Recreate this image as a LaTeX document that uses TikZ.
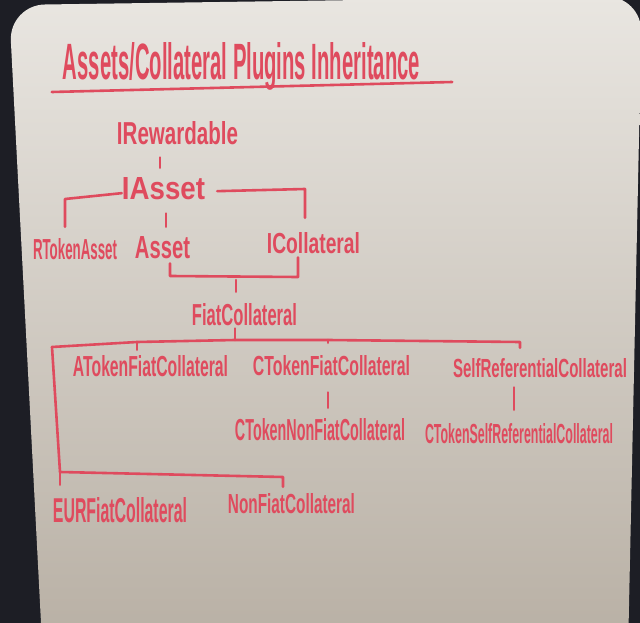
\documentclass[tikz,border=0pt]{standalone}
\usepackage{graphicx}
\usepackage{fontspec}
\setmainfont{Liberation Sans}
\definecolor{ink}{HTML}{DF4B5E}
\definecolor{frame}{HTML}{1D1E25}
\definecolor{boardtop}{HTML}{E9E6E1}
\definecolor{boardmid}{HTML}{DEDAD4}
\definecolor{boardbot}{HTML}{B4AB9F}
\newcommand\hw[3]{\resizebox{#1pt}{#2pt}{#3}}
\tikzset{
  lbl/.style={text=ink, inner sep=0pt, anchor=base, font=\bfseries},
  link/.style={draw=ink, line width=2.6pt, line cap=round, line join=round}
}
\begin{document}
\begin{tikzpicture}[x=1pt,y=-1pt]
\useasboundingbox (0,0) rectangle (640,623);
\clip (0,0) rectangle (640,623);
% frame and board
\fill[frame] (0,0) rectangle (640,623);
\shade[top color=boardtop, middle color=boardmid, bottom color=boardbot, rounded corners=36pt]
  (45,700) -- (9,5) -- (642,-4) -- (627,700) -- cycle;

% labels
\node[lbl] (title) at (241.5,80) {\hw{357}{37}{Assets/Collateral Plugins Inheritance}};
\node[lbl] (irew) at (177.5,145) {\hw{121}{23}{IRewardable}};
\node[lbl] (iasset) at (163.5,200) {\hw{83}{22}{IAsset}};
\node[lbl] (rtoken) at (75,259) {\hw{84}{21}{RTokenAsset}};
\node[lbl] (asset) at (162.5,258) {\hw{55}{22}{Asset}};
\node[lbl] (icoll) at (313.5,253) {\hw{93}{21}{ICollateral}};
\node[lbl] (fiat) at (244.5,325) {\hw{105}{22}{FiatCollateral}};
\node[lbl] (atoken) at (150.5,376) {\hw{155}{21}{ATokenFiatCollateral}};
\node[lbl] (ctoken) at (331.5,375) {\hw{157}{20}{CTokenFiatCollateral}};
\node[lbl] (selfref) at (540,377) {\hw{174}{19}{SelfReferentialCollateral}};
\node[lbl] (ctnonfiat) at (320,440) {\hw{170}{22}{CTokenNonFiatCollateral}};
\node[lbl] (ctself) at (519,443) {\hw{188}{20}{CTokenSelfReferentialCollateral}};
\node[lbl] (eur) at (120,522) {\hw{134}{25}{EURFiatCollateral}};
\node[lbl] (nonfiat) at (291.5,513) {\hw{127}{20}{NonFiatCollateral}};

% title underline
\draw[link] ([xshift=-11pt,yshift=-12pt]title.base west) -- ([xshift=32pt,yshift=-2pt]title.base east);

% junction coordinates
\coordinate (jR) at (160,0);
\coordinate (jAs) at (166,0);
\coordinate (jL) at (65,199);
\coordinate (jRt) at (305,189);
\coordinate (jA1) at (170,276);
\coordinate (jI1) at (298,277);
\coordinate (jM) at (236,277);
\coordinate (jF) at (235,340);
\coordinate (hl) at (52,347);
\coordinate (jA) at (137,342);
\coordinate (jC) at (328,340);
\coordinate (hr) at (520,342);
\coordinate (jS) at (514,0);
\coordinate (jB) at (60,472);
\coordinate (jN) at (283,477);

% IRewardable -> IAsset
\draw[link, shorten <=12pt, shorten >=10pt] (irew.south -| jR) -- (iasset.north -| jR);
% IAsset -> RTokenAsset
\draw[link, shorten >=11pt] ([yshift=-4pt]iasset.west) -- (jL) -- (jL |- rtoken.north);
% IAsset -> ICollateral
\draw[link, shorten >=14pt] ([xshift=12pt,yshift=-2pt]iasset.east) -- (jRt) -- (jRt |- icoll.north);
% IAsset -> Asset
\draw[link, shorten <=13pt, shorten >=9pt] (iasset.south -| jAs) -- (asset.north -| jAs);
% Asset, ICollateral -> FiatCollateral
\draw[link, shorten <=5pt, shorten >=4pt] (asset.south -| jA1) -- (jA1) -- (jI1) -- (jI1 |- icoll.south);
\draw[link, shorten <=3pt, shorten >=11pt] (jM) -- (jM |- fiat.north);
% FiatCollateral -> children
\draw[link, shorten <=3pt] (fiat.south -| jF) -- (jF);
\draw[link, shorten >=10pt] (hl) -- (jA) -- (jF) -- (jC) -- (hr) -- (hr |- selfref.north);
\draw[link, shorten >=5pt] (jA) -- (jA |- atoken.north);
\draw[link, shorten >=12pt] (jC) -- (jC |- ctoken.north);
\draw[link] (hl) -- (jB);
\draw[link, shorten >=12pt] (jB) -- (jB |- eur.north);
\draw[link, shorten >=6pt] (jB) -- (jN) -- (jN |- nonfiat.north);
% CTokenFiatCollateral -> CTokenNonFiatCollateral
\draw[link, shorten <=17pt, shorten >=10pt] (ctoken.south -| jC) -- (ctnonfiat.north -| jC);
% SelfReferentialCollateral -> CTokenSelfReferentialCollateral
\draw[link, shorten <=10pt, shorten >=13pt] (selfref.south -| jS) -- (ctself.north -| jS);
\end{tikzpicture}
\end{document}
